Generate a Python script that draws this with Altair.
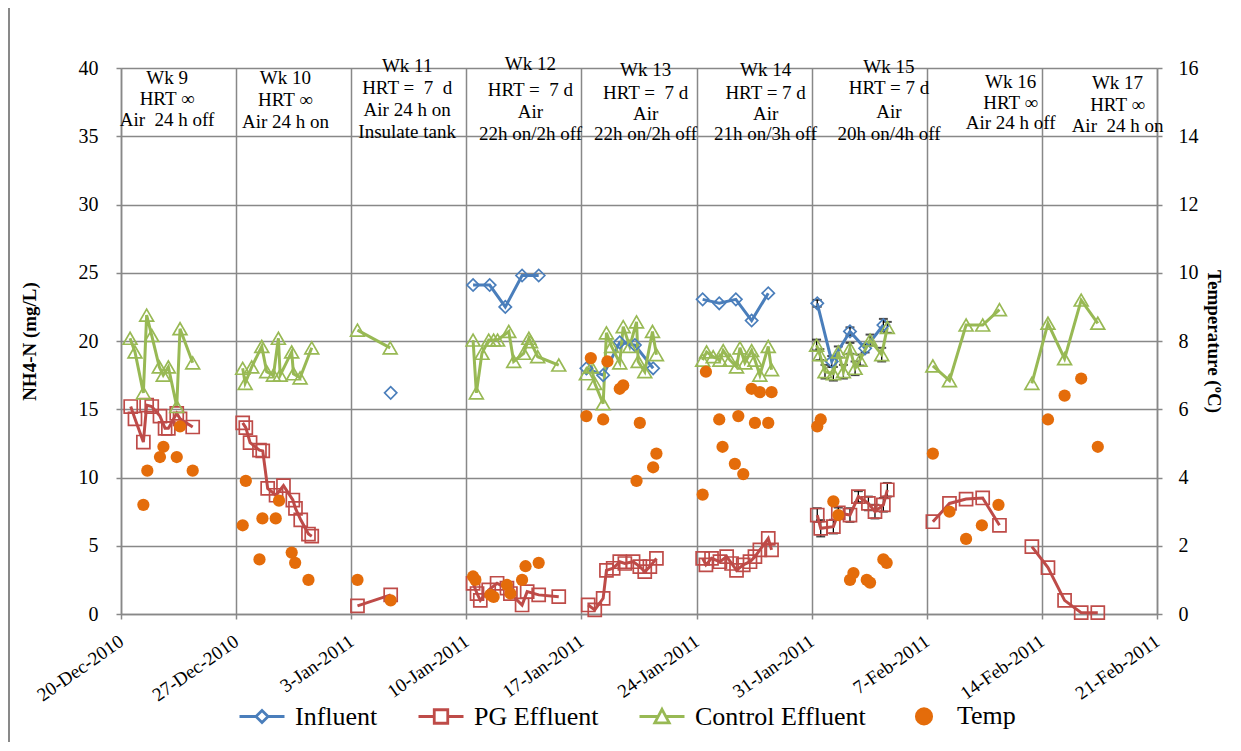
import altair as alt
import pandas as pd

BASE = pd.Timestamp("2010-12-20")
TICK_DATES = [(2010, 12, 20), (2010, 12, 27), (2011, 1, 3), (2011, 1, 10), (2011, 1, 17),
              (2011, 1, 24), (2011, 1, 31), (2011, 2, 7), (2011, 2, 14), (2011, 2, 21)]

SERIES = ["Influent", "PG Effluent", "Control Effluent", "Temp"]
COLORS = ["#4a7ebb", "#be4b48", "#98b954", "#e46c0a"]

# sampling times (days after 20-Dec-2010) and NH4-N (mg/L), keyed by study week
INF_DAYS = {11: [16.4],
            12: [21.41, 22.42, 23.37, 24.39, 25.4],
            13: [28.3, 29.32, 30.33, 31.25, 32.36],
            14: [35.37, 36.38, 37.39, 38.35, 39.36],
            15: [42.34, 43.22, 44.33, 45.25, 46.36]}
INF_VALS = {11: [16.2],
            12: [24.1, 24.1, 22.5, 24.8, 24.8],
            13: [18.0, 17.5, 19.9, 19.7, 18.0],
            14: [23.05, 22.76, 23.05, 21.5, 23.5],
            15: [22.76, 18.5, 20.7, 19.46, 21.17]}
INF_ERR = {15: [0.25, 0.4, 0.3, 0.3, 0.45]}

PG_DAYS = {9: [0.59, 0.85, 1.36, 1.56, 1.87, 2.37, 2.68, 2.88, 3.39, 3.59, 4.36],
           10: [7.4, 7.59, 7.85, 8.42, 8.62, 8.92, 9.43, 9.88, 10.45, 10.61, 10.93, 11.4, 11.6],
           11: [14.38, 16.4],
           12: [21.41, 21.65, 21.85, 22.36, 22.87, 23.47, 23.68, 24.39, 24.7, 25.4, 26.62],
           13: [28.41, 28.81, 29.32, 29.52, 29.93, 30.33, 30.64, 31.14, 31.55, 31.85, 32.16, 32.56],
           14: [35.37, 35.57, 35.91, 36.42, 36.83, 37.13, 37.43, 37.84, 38.25, 38.55, 38.85, 39.36, 39.56],
           15: [42.34, 42.55, 43.32, 43.62, 44.33, 44.84, 45.45, 45.85, 46.36, 46.6],
           16: [49.37, 50.38, 51.39, 52.4, 53.42],
           17: [55.39, 56.37, 57.38, 58.39, 59.4]}
PG_VALS = {9: [15.2, 14.3, 12.6, 15.3, 15.2, 14.5, 13.6, 13.6, 14.7, 14.3, 13.7],
           10: [14.0, 13.65, 12.55, 12.0, 11.95, 9.2, 8.7, 9.4, 8.35, 7.74, 6.9, 5.86, 5.7],
           11: [0.59, 1.4],
           12: [2.25, 1.5, 1.0, 1.76, 2.25, 1.9, 1.5, 0.66, 1.64, 1.4, 1.27],
           13: [0.66, 0.3, 1.15, 3.2, 3.35, 3.83, 3.7, 3.83, 3.47, 3.1, 3.47, 4.08],
           14: [4.08, 3.6, 4.08, 3.83, 4.2, 3.7, 3.2, 3.6, 3.83, 4.2, 4.7, 5.54, 4.7],
           15: [7.25, 6.28, 6.4, 7.4, 7.25, 8.6, 8.1, 7.5, 8.0, 9.1],
           16: [6.76, 8.1, 8.42, 8.5, 6.5],
           17: [4.93, 3.4, 1.0, 0.1, 0.1]}
PG_ERR = {15: [0.5, 0.6, 0.5, 0.4, 0.5, 0.4, 0.5, 0.5, 0.5, 0.5]}

CTRL_DAYS = {9: [0.55, 0.85, 1.36, 1.56, 1.87, 2.33, 2.57, 2.88, 3.39, 3.59, 4.36],
             10: [7.4, 7.55, 7.95, 8.56, 8.86, 9.27, 9.57, 9.68, 10.38, 10.49, 10.89, 11.6],
             11: [14.38, 16.37],
             12: [21.41, 21.61, 21.95, 22.36, 22.66, 22.9, 23.58, 23.88, 24.49, 24.8, 24.9, 25.34, 26.62],
             13: [28.3, 28.61, 28.81, 29.32, 29.52, 29.83, 30.33, 30.54, 30.94, 31.35, 31.45, 31.85, 32.32, 32.56],
             14: [35.37, 35.61, 36.01, 36.42, 36.62, 37.03, 37.43, 37.64, 37.94, 38.35, 38.55, 38.85, 39.36, 39.56],
             15: [42.3, 42.5, 42.81, 43.32, 43.62, 43.93, 44.33, 44.64, 44.94, 45.55, 46.26, 46.6],
             16: [49.37, 50.38, 51.39, 52.4, 53.42],
             17: [55.39, 56.37, 57.38, 58.39, 59.4]}
CTRL_VALS = {9: [20.2, 19.2, 16.2, 21.9, 20.4, 18.1, 17.5, 18.1, 15.2, 20.9, 18.4],
             10: [18.0, 16.9, 18.1, 19.6, 17.75, 17.5, 20.2, 17.5, 19.2, 17.6, 17.3, 19.5],
             11: [20.8, 19.5],
             12: [20.07, 16.2, 19.1, 20.07, 20.07, 20.07, 20.7, 18.5, 19.1, 20.2, 19.95, 18.85, 18.24],
             13: [17.6, 18.1, 16.9, 15.4, 20.6, 19.6, 18.4, 21.05, 19.6, 21.4, 18.5, 17.75, 20.7, 19.0],
             14: [18.6, 19.2, 18.85, 18.6, 19.3, 18.6, 18.1, 19.5, 18.4, 19.3, 18.6, 17.5, 19.6, 17.9],
             15: [19.7, 19.0, 17.75, 17.6, 19.2, 17.75, 19.46, 18.0, 18.6, 20.07, 19.0, 21.0],
             16: [18.17, 17.1, 21.17, 21.17, 22.3],
             17: [16.9, 21.3, 18.7, 23.0, 21.3]}
CTRL_ERR = {15: [0.4, 0.4, 0.5, 0.5, 0.4, 0.5, 0.4, 0.5, 0.4, 0.4, 0.5, 0.4]}

# temperature (degC)
TEMP_DAYS = {9: [1.36, 1.6, 2.37, 2.58, 3.39, 3.59, 4.36],
             10: [7.4, 7.59, 8.42, 8.6, 9.41, 9.61, 10.38, 10.59, 11.4],
             11: [14.38, 16.4],
             12: [21.41, 21.55, 22.46, 22.66, 23.47, 23.68, 24.39, 24.6, 25.4],
             13: [28.3, 28.57, 29.32, 29.58, 30.33, 30.54, 31.55, 31.35, 32.36, 32.56],
             14: [35.37, 35.57, 36.38, 36.58, 37.33, 37.84, 37.54, 38.35, 38.55, 38.85, 39.36, 39.56],
             15: [42.34, 42.55, 43.32, 43.62, 44.33, 44.54, 45.35, 45.55, 46.36, 46.56],
             16: [49.37, 50.38, 51.39, 52.35, 53.36],
             17: [56.37, 57.38, 58.39, 59.4]}
TEMP_VALS = {9: [3.2, 4.2, 4.6, 4.9, 4.6, 5.5, 4.2],
             10: [2.6, 3.9, 1.6, 2.8, 2.8, 3.32, 1.8, 1.5, 1.0],
             11: [1.0, 0.4],
             12: [1.1, 1.0, 0.56, 0.5, 0.85, 0.6, 1.0, 1.4, 1.5],
             13: [5.8, 7.5, 5.7, 7.4, 6.6, 6.7, 5.6, 3.9, 4.3, 4.7],
             14: [3.5, 7.1, 5.7, 4.9, 4.4, 4.1, 5.8, 6.6, 5.6, 6.5, 5.6, 6.5],
             15: [5.5, 5.7, 3.3, 2.9, 1.0, 1.2, 1.0, 0.92, 1.6, 1.5],
             16: [4.7, 3.0, 2.2, 2.6, 3.2],
             17: [5.7, 6.4, 6.9, 4.9]}

# week annotations: centre (days after 20-Dec), text lines and their heights (NH4-N units)
NOTE_DAYS = [2.8, 10.0, 17.4, 24.9, 31.9, 39.2, 46.7, 54.1, 60.6]
NOTE_LINES = [["Wk 9", "HRT \u221e", "Air\u00a0 24 h off"],
              ["Wk 10", "HRT \u221e", "Air 24 h on"],
              ["Wk 11", "HRT =\u00a0 7\u00a0 d", "Air 24 h on", "Insulate tank"],
              ["Wk 12", "HRT =\u00a0 7 d", "Air", "22h on/2h off"],
              ["Wk 13", "HRT =\u00a0 7 d", "Air", "22h on/2h off"],
              ["Wk 14", "HRT = 7 d", "Air", "21h on/3h off"],
              ["Wk 15", "HRT = 7 d", "Air", "20h on/4h off"],
              ["Wk 16", "HRT \u221e", "Air 24 h off"],
              ["Wk 17", "HRT \u221e", "Air\u00a0 24 h on"]]
NOTE_Y = [[39.3, 37.75, 36.2],
          [39.25, 37.65, 36.05],
          [40.15, 38.5, 36.9, 35.3],
          [40.3, 38.4, 36.8, 35.2],
          [39.85, 38.2, 36.6, 35.15],
          [39.85, 38.2, 36.6, 35.15],
          [40.05, 38.5, 36.8, 35.2],
          [38.95, 37.4, 35.95],
          [38.9, 37.3, 35.75]]


def to_date(d):
    return (BASE + pd.Timedelta(days=d)).isoformat()


def frame(days, vals, name, errs=None):
    rows = []
    for wk in days:
        for i, (d, v) in enumerate(zip(days[wk], vals[wk])):
            row = {"date": to_date(d), "week": wk, "value": v, "series": name}
            if errs and wk in errs:
                row["lo"] = v - errs[wk][i]
                row["hi"] = v + errs[wk][i]
            rows.append(row)
    return pd.DataFrame(rows)


inf_df = frame(INF_DAYS, INF_VALS, "Influent", INF_ERR)
pg_df = frame(PG_DAYS, PG_VALS, "PG Effluent", PG_ERR)
ctrl_df = frame(CTRL_DAYS, CTRL_VALS, "Control Effluent", CTRL_ERR)
temp_df = frame(TEMP_DAYS, TEMP_VALS, "Temp")
err_df = pd.concat([inf_df, ctrl_df, pg_df]).dropna(subset=["lo"])

note_rows = []
for d, lines, ys in zip(NOTE_DAYS, NOTE_LINES, NOTE_Y):
    for t, y in zip(lines, ys):
        note_rows.append({"date": to_date(d), "y": y, "text": t})
note_df = pd.DataFrame(note_rows)

legend_df = pd.DataFrame({"series": SERIES, "date": [to_date(75)] * 4, "value": [0] * 4})

GRID = "#888888"
FONT = "Liberation Serif"

x_enc = alt.X(
    "date:T",
    scale=alt.Scale(domain=[alt.DateTime(year=2010, month=12, date=20),
                            alt.DateTime(year=2011, month=2, date=21)]),
    axis=alt.Axis(values=[alt.DateTime(year=y, month=m, date=d) for y, m, d in TICK_DATES],
                  format="%-d-%b-%Y", labelAngle=-35, labelAlign="right", labelBaseline="middle",
                  labelPadding=20, labelFontSize=19, tickSize=5, grid=True, title=None),
)

Y_SCALE = alt.Scale(domain=[0, 40], nice=False)
Y_AXIS = alt.Axis(values=list(range(0, 41, 5)), title="NH4-N (mg/L)", titleFontSize=19,
                  titleFontWeight="bold", titlePadding=39, labelFontSize=20, labelPadding=18,
                  tickSize=5, grid=True)


def ynh4(field):
    return alt.Y(field, scale=Y_SCALE, axis=Y_AXIS)


layers = []

# outer frame edge
layers.append(alt.Chart(legend_df).mark_rule(color=GRID, strokeWidth=1.5).encode(
    x=alt.value(-112), y=alt.value(-62), y2=alt.value(690)))

# error bars (week 15)
err_base = alt.Chart(err_df)
layers.append(err_base.mark_rule(color="black", strokeWidth=1.3).encode(
    x=x_enc, y=ynh4("lo:Q"), y2="hi:Q"))
layers.append(err_base.mark_point(shape="stroke", size=80, color="black", strokeWidth=2).encode(
    x=x_enc, y=ynh4("lo:Q")))
layers.append(err_base.mark_point(shape="stroke", size=80, color="black", strokeWidth=2).encode(
    x=x_enc, y=ynh4("hi:Q")))

SPEC = [(inf_df, COLORS[0], "diamond", 150),
        (pg_df, COLORS[1], "square", 170),
        (ctrl_df, COLORS[2], "triangle-up", 190)]
for df, col, shape, size in SPEC:
    layers.append(alt.Chart(df).mark_line(color=col, strokeWidth=3).encode(
        x=x_enc, y=ynh4("value:Q"), detail="week:N", order="date:T"))
for df, col, shape, size in SPEC:
    layers.append(alt.Chart(df).mark_point(shape=shape, size=size, color=col, filled=False,
                                           strokeWidth=1.7, opacity=1).encode(
        x=x_enc, y=ynh4("value:Q")))

# week annotations
layers.append(alt.Chart(note_df).mark_text(font=FONT, fontSize=19, color="black",
                                           align="center", baseline="middle").encode(
    x=x_enc, y=ynh4("y:Q"), text="text:N"))

# legend (rows sit outside the time domain and are clipped)
LEG_SHAPES = [
    "M-1,0L-0.27,0M0.27,0L1,0M0,-0.27L0.27,0L0,0.27L-0.27,0Z",
    "M-1,0L-0.3,0M0.3,0L1,0M-0.3,-0.3L0.3,-0.3L0.3,0.3L-0.3,0.3Z",
    "M-1,0L-0.15,0M0.15,0L1,0M0,-0.32L0.32,0.28L-0.32,0.28Z",
    "M-0.34,0A0.34,0.34,0,1,0,0.34,0A0.34,0.34,0,1,0,-0.34,0Z",
]
LEG = alt.Legend(orient="none", legendX=117, legendY=624, direction="horizontal", title=None,
                 labelFont=FONT, labelFontSize=26, labelColor="black", labelLimit=400,
                 symbolSize=2025, symbolStrokeWidth=2.8, symbolOpacity=1,
                 columnPadding=34, labelOffset=9, padding=0)
layers.append(alt.Chart(legend_df).mark_point(clip=True, filled=False, opacity=1).encode(
    x=x_enc, y=ynh4("value:Q"),
    color=alt.Color("series:N", scale=alt.Scale(domain=SERIES, range=COLORS), legend=LEG),
    fill=alt.Fill("series:N", scale=alt.Scale(domain=SERIES,
                                              range=["white", "white", "white", COLORS[3]]), legend=LEG),
    shape=alt.Shape("series:N", scale=alt.Scale(domain=SERIES, range=LEG_SHAPES), legend=LEG),
))

nh4 = alt.layer(*layers)

temp = alt.Chart(temp_df).mark_circle(size=150, color=COLORS[3], opacity=1).encode(
    x=x_enc,
    y=alt.Y("value:Q", scale=alt.Scale(domain=[0, 16], nice=False),
            axis=alt.Axis(orient="right", values=list(range(0, 17, 2)), title="Temperature (\u00baC)",
                          titleFontSize=19, titleFontWeight="bold", titlePadding=5,
                          labelFontSize=20, labelPadding=16, tickSize=5, grid=False)),
)

chart = alt.layer(nh4, temp).resolve_scale(y="independent").properties(
    width=1036, height=546,
    autosize=alt.AutoSizeParams(type="none"),
    padding={"left": 113, "top": 60, "right": 76, "bottom": 128},
    background="white",
).configure(font=FONT).configure_view(stroke=None).configure_axis(
    labelFont=FONT, titleFont=FONT, labelColor="black", titleColor="black",
    gridColor=GRID, gridWidth=1.5, domainColor=GRID, domainWidth=1.5, tickColor=GRID, tickWidth=1.5,
).configure_legend(
    labelFont=FONT, labelFontSize=26, labelColor="black", labelLimit=400,
)

chart.save("out.html", embed_options={"renderer": "svg", "actions": False})
